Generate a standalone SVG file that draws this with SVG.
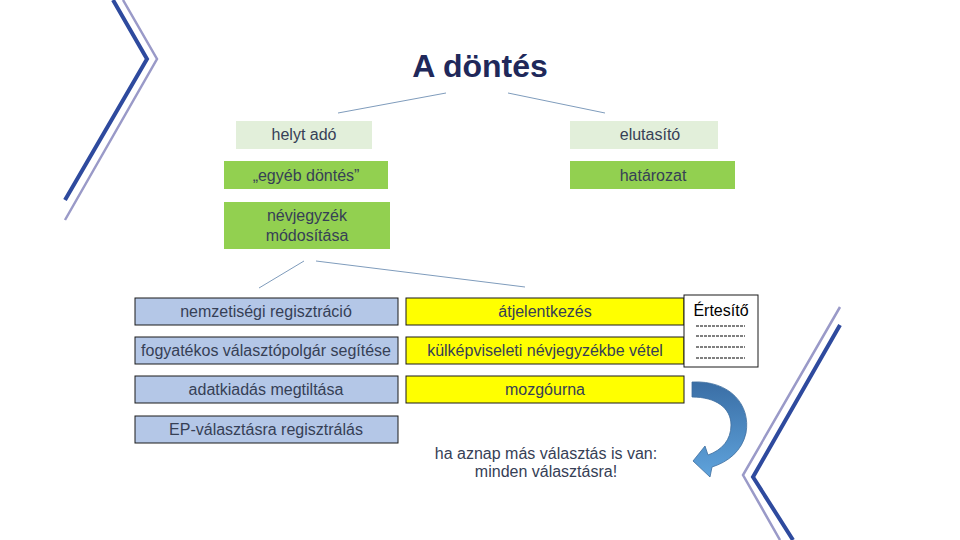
<svg xmlns="http://www.w3.org/2000/svg" width="960" height="540" viewBox="0 0 960 540">
<defs>
<style>
.t{font-family:"Liberation Sans",Arial,sans-serif;font-size:16px;fill:#364056;text-anchor:middle}
.lg{fill:#e2efda}
.g{fill:#92d050}
.b{fill:#b4c7e7;stroke:#1a1a1a;stroke-width:1}
.y{fill:#ffff00;stroke:#1a1a1a;stroke-width:1}
.c{stroke:#7f9cbc;stroke-width:1;fill:none}
.dk{stroke:#2e4a9e;stroke-width:4;fill:none}
.lt{stroke:#9a9ac8;stroke-width:2.5;fill:none}
.dash{stroke:#000;stroke-width:1;stroke-dasharray:3 1}
</style>
<linearGradient id="ag" x1="0" y1="0" x2="0" y2="1">
<stop offset="0" stop-color="#3a6ea5"/>
<stop offset="1" stop-color="#5fa3dc"/>
</linearGradient>
</defs>
<rect width="960" height="540" fill="#fff"/>
<g id="decor">
<polyline class="lt" points="123,0 157,59 65,220"/>
<polyline class="dk" points="113,0 147,59 65,200"/>
<polyline class="lt" points="840,307 743,475 780,540"/>
<polyline class="dk" points="840,325 753,477 793,540"/>
</g>
<text id="title" x="480" y="77" style="font-family:'Liberation Sans',Arial,sans-serif;font-size:32px;font-weight:bold;fill:#20285a;text-anchor:middle">A döntés</text>
<g id="connectors">
<line class="c" x1="338" y1="113" x2="446" y2="93"/>
<line class="c" x1="508" y1="93" x2="605" y2="113"/>
<line class="c" x1="259" y1="288" x2="304" y2="261"/>
<line class="c" x1="316" y1="261" x2="525" y2="287"/>
</g>
<g id="helyt"><rect class="lg" x="236" y="121" width="136" height="28"/><text class="t" x="304" y="140">helyt adó</text></g>
<g id="elutasito"><rect class="lg" x="570" y="121" width="148" height="28"/><text class="t" x="650" y="140">elutasító</text></g>
<g id="egyeb"><rect class="g" x="224" y="161" width="164" height="28"/><text class="t" x="306" y="181">„egyéb döntés”</text></g>
<g id="hatarozat"><rect class="g" x="570" y="161" width="165" height="28"/><text class="t" x="653" y="181">határozat</text></g>
<g id="nevjegyzek"><rect class="g" x="224" y="202" width="166" height="47"/><text class="t" x="307" y="221">névjegyzék</text><text class="t" x="307" y="241">módosítása</text></g>
<g id="nemzetisegi"><rect class="b" x="135" y="298" width="263" height="27"/><text class="t" x="266" y="317">nemzetiségi regisztráció</text></g>
<g id="fogyatekos"><rect class="b" x="135" y="337" width="263" height="27"/><text class="t" x="266" y="356">fogyatékos választópolgár segítése</text></g>
<g id="adatkiadas"><rect class="b" x="135" y="376" width="263" height="27"/><text class="t" x="266" y="395">adatkiadás megtiltása</text></g>
<g id="ep"><rect class="b" x="135" y="416" width="263" height="27"/><text class="t" x="266" y="435">EP-választásra regisztrálás</text></g>
<g id="atjelentkezes"><rect class="y" x="406" y="298" width="278" height="27"/><text class="t" x="545" y="317">átjelentkezés</text></g>
<g id="kulkepviseleti"><rect class="y" x="406" y="337" width="278" height="27"/><text class="t" x="545" y="356">külképviseleti névjegyzékbe  vétel</text></g>
<g id="mozgourna"><rect class="y" x="406" y="376" width="278" height="27"/><text class="t" x="545" y="395">mozgóurna</text></g>
<g id="ertesito">
<rect x="684" y="295" width="74" height="72" fill="#fff" stroke="#1a1a1a" stroke-width="1"/>
<text x="721" y="316" style="font-family:'Liberation Sans',Arial,sans-serif;font-size:16px;fill:#000;text-anchor:middle">Értesítő</text>
<line class="dash" x1="696" y1="326" x2="745" y2="326"/>
<line class="dash" x1="696" y1="336" x2="745" y2="336"/>
<line class="dash" x1="696" y1="347" x2="745" y2="347"/>
<line class="dash" x1="696" y1="358" x2="745" y2="358"/>
</g>
<g id="arrow">
<path d="M692,382 C730,380 751,405 746,433 C742,451 728,462 712,467 L710,477 L693,461 L705,446 L708,455 C722,450 731,440 731,425 C731,408 716,397 692,397 Z" fill="url(#ag)" stroke="#3d6d9e" stroke-width="0.8"/>
</g>
<g id="note">
<text class="t" x="546" y="459">ha aznap más választás is van:</text>
<text class="t" x="546" y="477">minden választásra!</text>
</g>
</svg>
